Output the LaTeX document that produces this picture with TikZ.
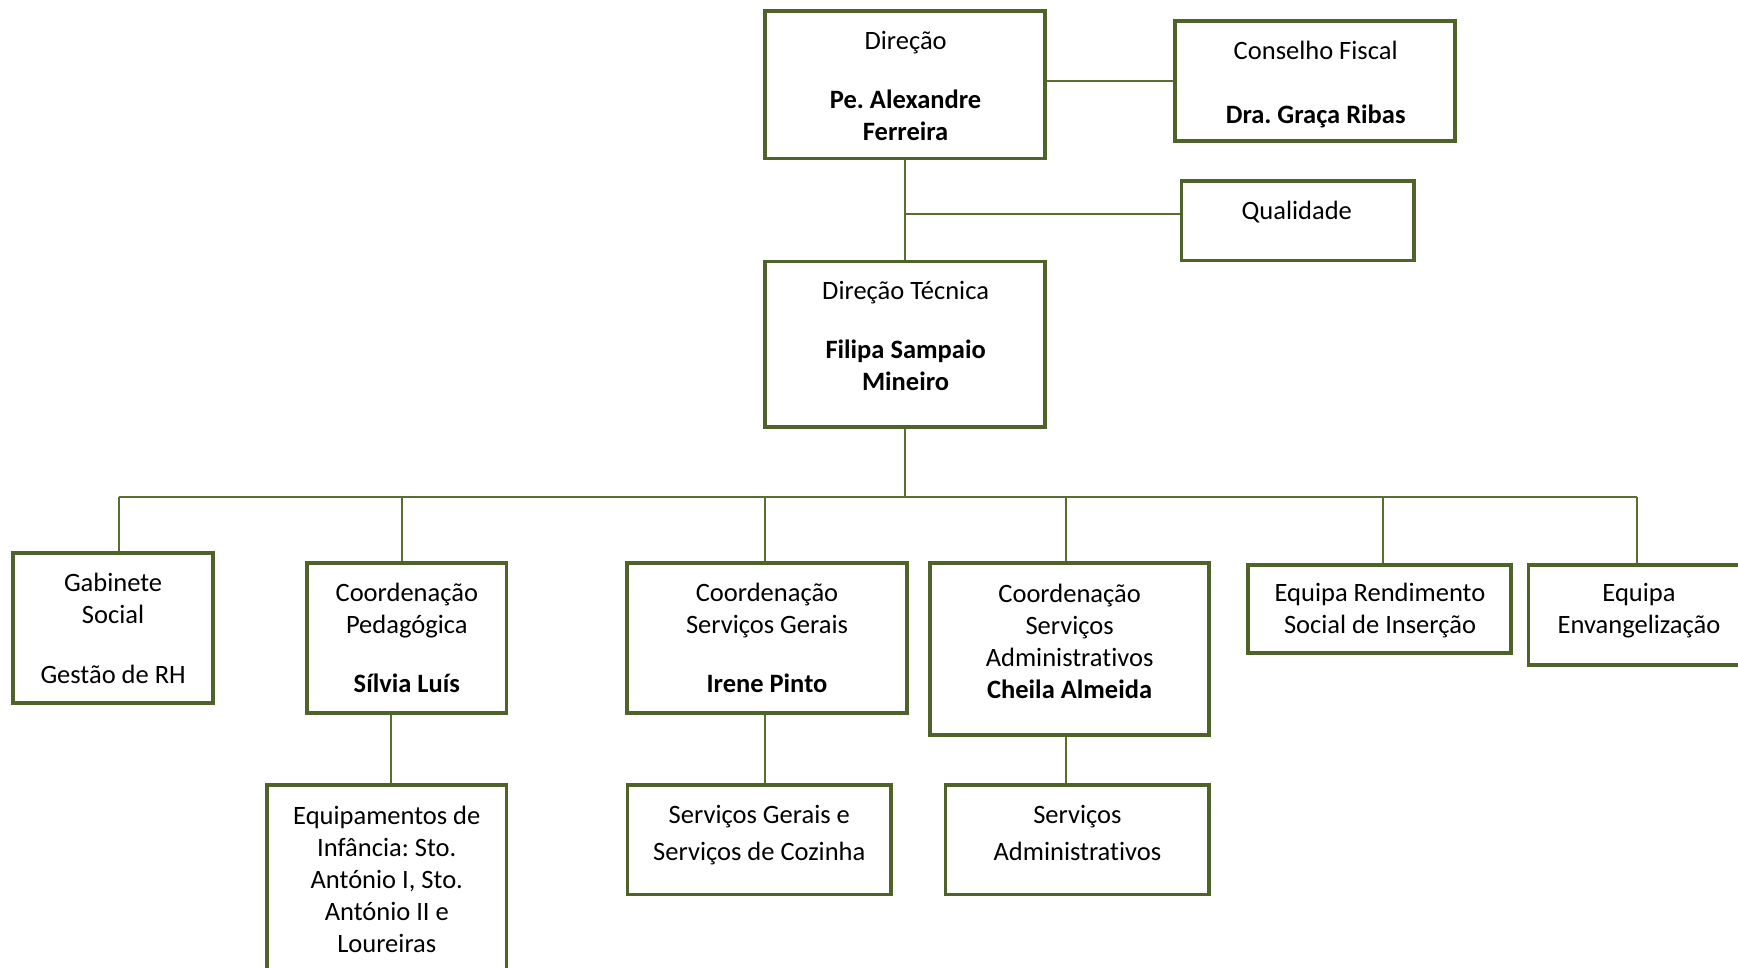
\documentclass[tikz,border=0pt]{standalone}
\usepackage{fontspec}
\setmainfont{Carlito}[RawFeature={-liga;-clig;-dlig;-calt}]
\frenchspacing
\definecolor{boxgreen}{RGB}{79,98,40}
\definecolor{linegreen}{RGB}{90,110,50}
\begin{document}
\begin{tikzpicture}[x=1pt,y=-1pt,
  box/.style={draw=boxgreen,line width=3.8pt,inner sep=0pt},
  txt/.style={align=center,inner sep=0pt,font=\fontsize{26.5}{32}\selectfont},
  txtw/.style={align=center,inner sep=0pt,font=\fontsize{26.5}{36.6}\selectfont},
  conn/.style={draw=linegreen,line width=2pt}]
\useasboundingbox (0,0) rectangle (1738,968);
\clip (0,0) rectangle (1738,968);
% boxes
\node[box,minimum width=280.4pt,minimum height=147.4pt] (dir) at (905,84.8) {};
\node[txt] (dirT) at (905.6,86) {Direção\\[27pt]\textbf{Pe. Alexandre}\\\textbf{Ferreira}};
\node[box,minimum width=280.4pt,minimum height=119.7pt] (cons) at (1315.1,80.9) {};
\node[txt] (consT) at (1315.7,84.8) {Conselho Fiscal\\[32pt]\textbf{Dra. Graça Ribas}};
\node[box,minimum width=232.7pt,minimum height=79.8pt] (qual) at (1297.9,220.6) {};
\node[txt] (qualT) at (1296.8,211.7) {Qualidade};
\node[box,minimum width=280.4pt,minimum height=165.1pt] (dt) at (905,344.1) {};
\node[txt] (dtT) at (905.6,336.3) {Direção Técnica\\[27pt]\textbf{Filipa Sampaio}\\\textbf{Mineiro}};
\node[box,minimum width=199.5pt,minimum height=149.6pt] (gab) at (113.1,627.9) {};
\node[txt] (gabT) at (113.1,627.9) {Gabinete\\Social\\[28pt]Gestão de RH};
\node[box,minimum width=199.5pt,minimum height=149.6pt] (ped) at (406.8,637.9) {};
\node[txt] (pedT) at (406.8,638.3) {Coordenação\\Pedagógica\\[27pt]\textbf{Sílvia Luís}};
\node[box,minimum width=279.3pt,minimum height=149.6pt] (csg) at (767,637.9) {};
\node[txt] (csgT) at (767,638.3) {Coordenação\\Serviços Gerais\\[27pt]\textbf{Irene Pinto}};
\node[box,minimum width=279.4pt,minimum height=171.8pt] (csa) at (1069.6,649) {};
\node[txt] (csaT) at (1069.6,641.2) {Coordenação\\Serviços\\Administrativos\\\textbf{Cheila Almeida}};
\node[box,minimum width=262.7pt,minimum height=87.5pt] (rsi) at (1379.4,609) {};
\node[txt] (rsiT) at (1380,611) {Equipa Rendimento\\Social de Inserção};
\node[box,minimum width=221pt,minimum height=99.7pt] (eva) at (1639,615.2) {};
\node[txt] (evaT) at (1639,611) {Equipa\\Envangelização};
\node[box,minimum width=239.4pt,minimum height=189.6pt] (inf) at (386.8,879.5) {};
\node[txt] (infT) at (386.8,879.5) {Equipamentos de\\Infância: Sto.\\António I, Sto.\\António II e\\Loureiras};
\node[box,minimum width=263.8pt,minimum height=109.8pt] (sgc) at (759.3,839.6) {};
\node[txtw] (sgcT) at (759.3,835.2) {Serviços Gerais e\\Serviços de Cozinha};
\node[box,minimum width=263.8pt,minimum height=109.8pt] (sa) at (1077.4,839.6) {};
\node[txtw] (saT) at (1077.4,833) {Serviços\\Administrativos};
% connectors
\draw[conn] (cons.west) -- (cons.west -| dir.east);
\draw[conn] (dir.south) -- (dt.north);
\coordinate (qj) at (905,213.9);
\draw[conn] (qj) -- (qj -| qual.west);
\coordinate (busL) at (118.6,496.6);
\coordinate (busR) at (1637.1,496.6);
\draw[conn] (dt.south) -- (dt.south |- busL);
\draw[conn] (busL) -- (busR);
\draw[conn] (busL) -- (busL |- gab.north);
\coordinate (bP) at (402.3,496.6);
\draw[conn] (bP) -- (bP |- ped.north);
\coordinate (bG) at (764.8,496.6);
\draw[conn] (bG) -- (bG |- csg.north);
\coordinate (bA) at (1066.3,496.6);
\draw[conn] (bA) -- (bA |- csa.north);
\coordinate (bR) at (1383.3,496.6);
\draw[conn] (bR) -- (bR |- rsi.north);
\draw[conn] (busR) -- (busR |- eva.north);
\path (ped.south) ++(-15.5,0) coordinate (sP);
\draw[conn] (sP) -- (sP |- inf.north);
\path (csg.south) ++(-2.2,0) coordinate (sG);
\draw[conn] (sG) -- (sG |- sgc.north);
\path (csa.south) ++(-3.3,0) coordinate (sA);
\draw[conn] (sA) -- (sA |- sa.north);
\end{tikzpicture}
\end{document}
